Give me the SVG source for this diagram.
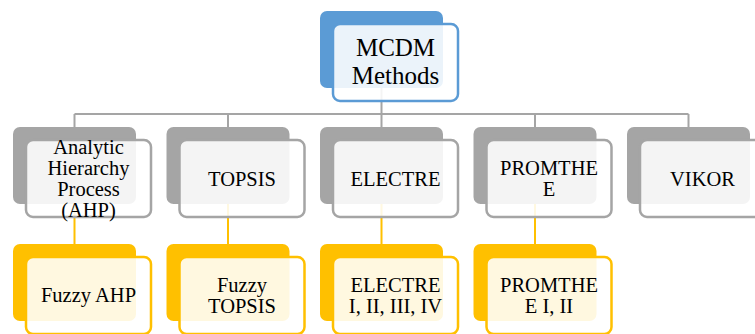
<svg xmlns="http://www.w3.org/2000/svg" width="755" height="334" viewBox="0 0 755 334">
  <style>
    .back { stroke: none; }
    .front { stroke-width: 2.5; fill: #ffffff; fill-opacity: 0.88; }
    .blue .back { fill: #5b9bd5; }
    .blue .front { stroke: #5b9bd5; }
    .gray .back { fill: #a5a5a5; }
    .gray .front { stroke: #a5a5a5; }
    .gold .back { fill: #ffc000; }
    .gold .front { stroke: #ffc000; }
    text { font-family: "Liberation Serif", "Times New Roman", serif; fill: #000000; text-anchor: middle; font-size: 20.5px; }
    .big { font-size: 25px; }
    .conn { fill: none; stroke-width: 2; }
    .conn-gray { stroke: #a5a5a5; }
    .conn-gold { stroke: #ffc000; }
  </style>

  <!-- connectors -->
  <g id="connectors">
    <path class="conn conn-gray" d="M381.5 88 V114 M74.5 114 H688.5 M74.5 114 V127 M228 114 V127 M381.5 114 V127 M535 114 V127 M688.5 114 V127"/>
    <path class="conn conn-gold" d="M74.5 203 V244 M228 203 V244 M381.5 203 V244 M535 203 V244"/>
  </g>

  <!-- root -->
  <g id="mcdm" class="blue">
    <rect class="back" x="320" y="11" width="123" height="77" rx="7"/>
    <rect class="front" x="333" y="24" width="125" height="77" rx="7"/>
    <text class="big" x="395.5" y="56">MCDM</text>
    <text class="big" x="395.5" y="83.5">Methods</text>
  </g>

  <!-- method level -->
  <g id="ahp" class="gray">
    <rect class="back" x="13" y="127" width="123" height="77" rx="7"/>
    <rect class="front" x="26" y="140" width="125" height="77" rx="7"/>
    <text x="88.5" y="154">Analytic</text>
    <text x="88.5" y="175">Hierarchy</text>
    <text x="88.5" y="196">Process</text>
    <text x="88.5" y="217">(AHP)</text>
  </g>
  <g id="topsis" class="gray">
    <rect class="back" x="166.5" y="127" width="123" height="77" rx="7"/>
    <rect class="front" x="179.5" y="140" width="125" height="77" rx="7"/>
    <text x="242" y="186">TOPSIS</text>
  </g>
  <g id="electre" class="gray">
    <rect class="back" x="320" y="127" width="123" height="77" rx="7"/>
    <rect class="front" x="333" y="140" width="125" height="77" rx="7"/>
    <text x="395.5" y="186">ELECTRE</text>
  </g>
  <g id="promthee" class="gray">
    <rect class="back" x="473.5" y="127" width="123" height="77" rx="7"/>
    <rect class="front" x="486.5" y="140" width="125" height="77" rx="7"/>
    <text x="549" y="175">PROMTHE</text>
    <text x="549" y="196">E</text>
  </g>
  <g id="vikor" class="gray">
    <rect class="back" x="627" y="127" width="123" height="77" rx="7"/>
    <rect class="front" x="640" y="140" width="125" height="77" rx="7"/>
    <text x="702.5" y="186">VIKOR</text>
  </g>

  <!-- variant level -->
  <g id="fuzzy-ahp" class="gold">
    <rect class="back" x="13" y="244" width="123" height="77" rx="7"/>
    <rect class="front" x="26" y="257" width="125" height="77" rx="7"/>
    <text x="88.5" y="302">Fuzzy AHP</text>
  </g>
  <g id="fuzzy-topsis" class="gold">
    <rect class="back" x="166.5" y="244" width="123" height="77" rx="7"/>
    <rect class="front" x="179.5" y="257" width="125" height="77" rx="7"/>
    <text x="242" y="291.5">Fuzzy</text>
    <text x="242" y="312.5">TOPSIS</text>
  </g>
  <g id="electre-variants" class="gold">
    <rect class="back" x="320" y="244" width="123" height="77" rx="7"/>
    <rect class="front" x="333" y="257" width="125" height="77" rx="7"/>
    <text x="395.5" y="291.5">ELECTRE</text>
    <text x="395.5" y="312.5">I, II, III, IV</text>
  </g>
  <g id="promthee-variants" class="gold">
    <rect class="back" x="473.5" y="244" width="123" height="77" rx="7"/>
    <rect class="front" x="486.5" y="257" width="125" height="77" rx="7"/>
    <text x="549" y="291.5">PROMTHE</text>
    <text x="549" y="312.5">E I, II</text>
  </g>
</svg>
